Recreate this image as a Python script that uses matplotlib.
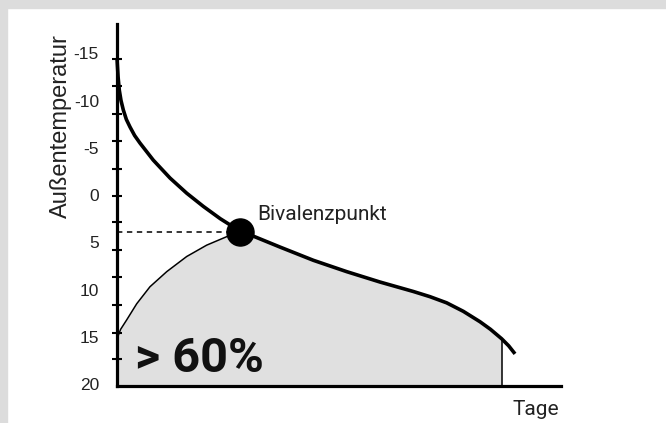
import numpy as np
import matplotlib.pyplot as plt
from matplotlib.patches import Rectangle

# Heizlast-Kurve (Tage, Außentemperatur in °C)
heat_days = [0, 0.25, 0.9, 1.9, 3.3, 5.2, 7.7, 10.7, 14.5, 18.9, 29.8, 43.6, 57.3, 71.0,
             84.9, 97.2, 101.1, 109.3, 134.0, 161.4, 188.8, 216.2, 243.6, 257.3, 271.0,
             284.7, 298.4, 307.0, 316.2, 322.0, 327.2]
heat_temp = [-14.5, -13.9, -12.5, -11.1, -10.0, -9.0, -8.0, -7.2, -6.3, -5.5, -3.7, -1.8,
             -0.2, 1.2, 2.5, 3.5, 3.86, 4.2, 5.5, 6.9, 8.1, 9.2, 10.2, 10.75, 11.4, 12.3,
             13.4, 14.2, 15.2, 15.95, 16.8]

# Wärmepumpen-Kurve bis zum Bivalenzpunkt
pump_days = [0, 3.0, 8.0, 16.2, 27.1, 40.9, 57.3, 73.7, 90.2, 101.1]
pump_temp = [15.2, 14.2, 13.2, 11.5, 9.7, 8.1, 6.5, 5.3, 4.4, 3.86]

biv_day = 101.1
biv_temp = 3.86
end_day = 316.2  # Ende der Fläche

y_labels = [-15, -10, -5, 0, 5, 10, 15, 20]
y_minor = [-14.4, -11.5, -8.6, -5.7, -2.8, 0.1, 2.9, 5.8, 8.7, 11.6, 14.6, 17.3]

fig = plt.figure(figsize=(6.66, 4.23), dpi=100)
fig.patches.append(Rectangle((0, 1 - 8 / 423), 1, 8 / 423, transform=fig.transFigure,
                             color='#dcdcdc', zorder=0))
fig.patches.append(Rectangle((0, 0), 7 / 666, 1, transform=fig.transFigure,
                             color='#dcdcdc', zorder=0))

ax = fig.add_axes([117 / 666, 1 - 386 / 423, 444 / 666, 362 / 423])
ax.set_xlim(0, 365)
ax.set_ylim(20.2, -18.1)

# graue Fläche unter den Kurven
i_biv = heat_days.index(biv_day)
i_end = heat_days.index(end_day)
fill_days = pump_days + heat_days[i_biv + 1:i_end + 1]
fill_temp = pump_temp + heat_temp[i_biv + 1:i_end + 1]
ax.fill_between(fill_days, fill_temp, 20.2, color='#e0e0e0', lw=0, zorder=1)
ax.plot([end_day, end_day], [heat_temp[i_end], 20.2], color='black', lw=1.1, zorder=2)

ax.plot(pump_days, pump_temp, color='black', lw=1.1, zorder=3)
ax.plot(heat_days, heat_temp, color='black', lw=2.6, zorder=3, clip_on=False,
        solid_capstyle='butt', solid_joinstyle='round')
ax.plot([0, biv_day], [biv_temp, biv_temp], color='black', lw=1.1, ls=(0, (3.5, 3)), zorder=2)
ax.plot([biv_day], [biv_temp], 'o', color='black', ms=19.5, zorder=4)

ax.text(biv_day + 14, 2.65, 'Bivalenzpunkt', fontsize=15, family='Roboto',
        color='#222222', va='baseline')
ax.text(14.8, 18.7, '> 60%', fontsize=35, family='Roboto', weight='bold',
        color='#111111', va='baseline', zorder=5)

for s in ['top', 'right']:
    ax.spines[s].set_visible(False)
for s in ['left', 'bottom']:
    ax.spines[s].set_linewidth(2.3)

ax.set_xticks([])
ax.set_yticks(y_labels)
ax.set_yticklabels([str(v) for v in y_labels], family='Liberation Sans', fontsize=12.5,
                   color='#222222')
ax.tick_params(axis='y', which='major', length=0, pad=13)
ax.set_yticks(y_minor, minor=True)
ax.tick_params(axis='y', which='minor', direction='inout', length=7, width=1.5)

fig.text(61 / 666, 1 - 126 / 423, 'Außentemperatur', rotation=90, ha='center',
         va='center', fontsize=17, family='Liberation Sans', color='#222222')
fig.text(559 / 666, 1 - 415 / 423, 'Tage', ha='right', va='baseline', fontsize=15,
         family='Roboto', color='#222222')

fig.savefig('out.png', dpi=100)
